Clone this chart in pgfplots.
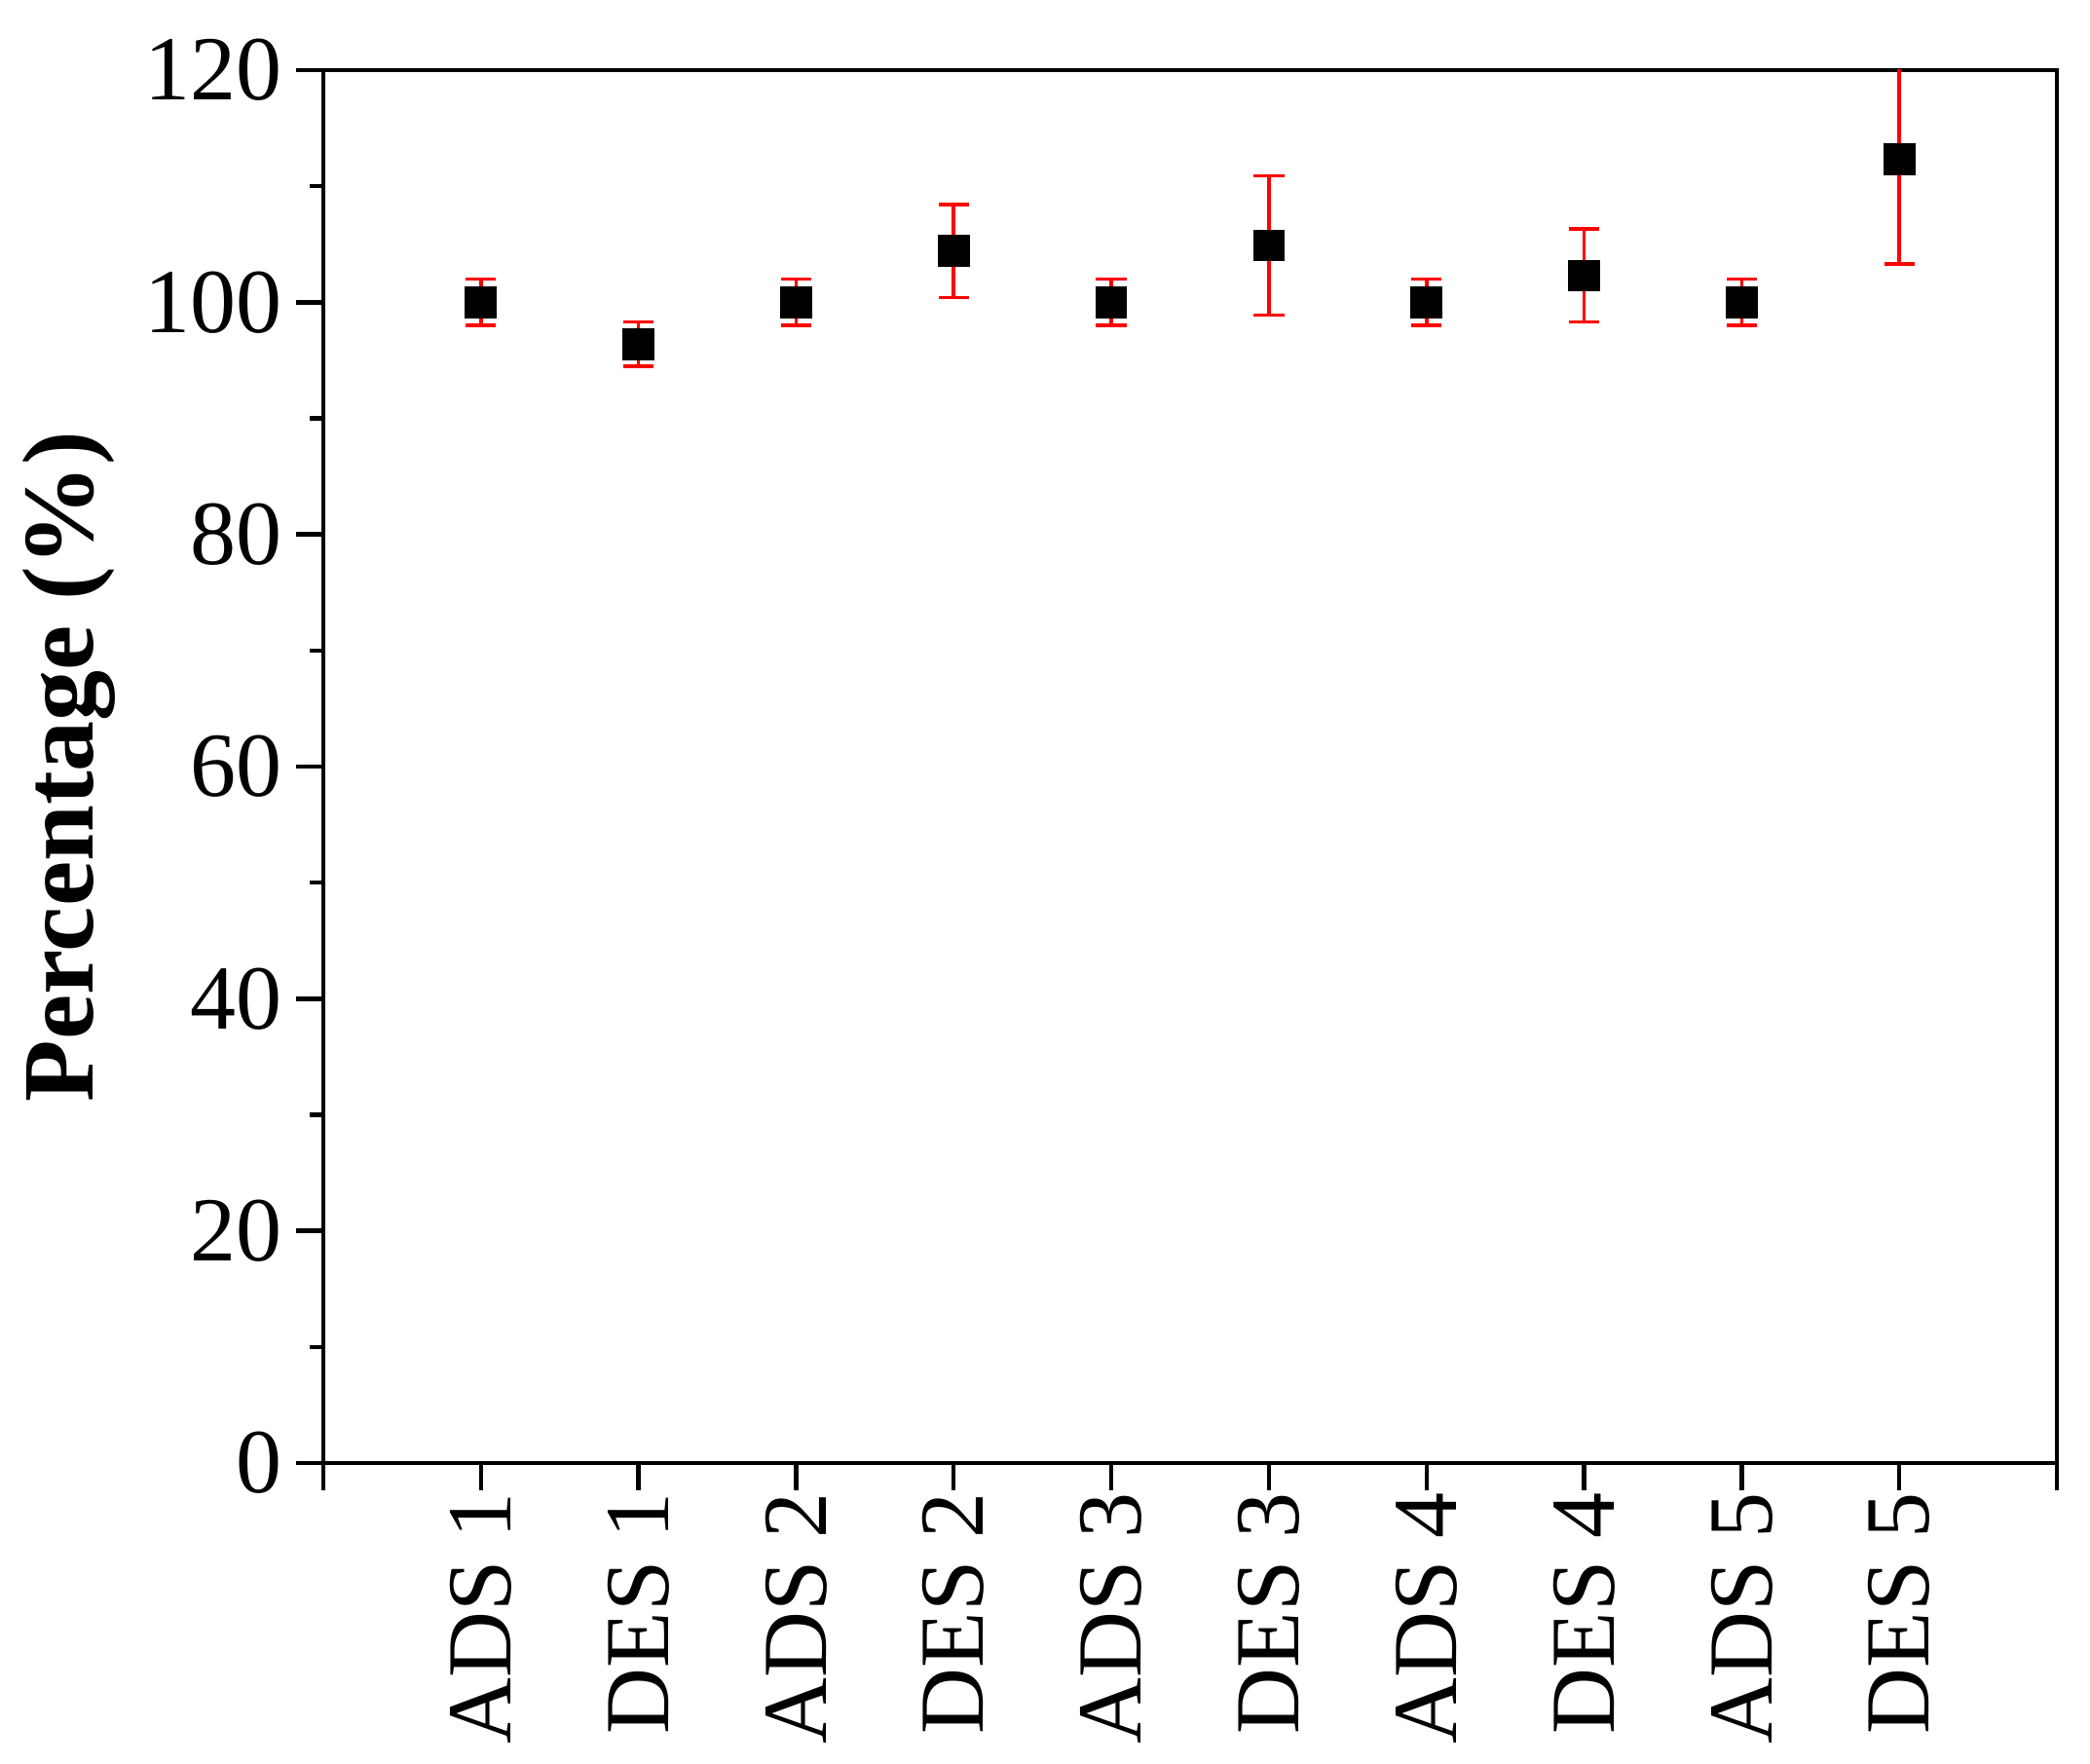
\documentclass[border=0pt]{standalone}
\usepackage{fontspec}
\setmainfont{Liberation Serif}
\usepackage{pgfplots}
\pgfplotsset{compat=1.18}

\begin{document}
\begin{tikzpicture}
\begin{axis}[
    scale only axis,
    width=445pt, height=357.5pt,
    xmin=0, xmax=11,
    ymin=0, ymax=120,
    xtick={0,...,11},
    xticklabels={,ADS 1,DES 1,ADS 2,DES 2,ADS 3,DES 3,ADS 4,DES 4,ADS 5,DES 5,},
    ytick={0,20,...,120},
    minor ytick={10,30,...,110},
    xtick pos=bottom, ytick pos=left,
    tick align=outside,
    major tick length=7pt, minor tick length=3.5pt,
    every tick/.style={line width=1.1pt, black},
    axis line style={line width=1.1pt},
    /pgf/number format/assume math mode=true,
    tick label style={font=\fontsize{23.5}{28}\selectfont},
    xticklabel style={rotate=90, anchor=east, xshift=3pt},
    ylabel={\textbf{Percentage (\%)}},
    ylabel style={font=\fontsize{26}{31}\selectfont, at={(axis description cs:0,0.5)}, anchor=base, yshift=59pt},
    clip=true,
]
\addplot[
    only marks,
    mark=square*, mark size=3.9pt,
    mark options={fill=black, draw=black},
    error bars/.cd,
        y dir=both, y explicit,
        error bar style={red, line width=0.9pt},
        error mark options={red, line width=0.9pt, mark size=3.9pt, rotate=90},
] table[x=x, y=y, y error=e] {
x  y      e
1  100.0  2.0
2  96.4   1.9
3  100.0  2.0
4  104.4  4.0
5  100.0  2.0
6  104.9  6.0
7  100.0  2.0
8  102.3  4.0
9  100.0  2.0
10 112.3  9.0
};
\end{axis}
\path (-83pt,-77.25pt) rectangle (453.5pt,375.5pt);
\end{tikzpicture}
\end{document}
